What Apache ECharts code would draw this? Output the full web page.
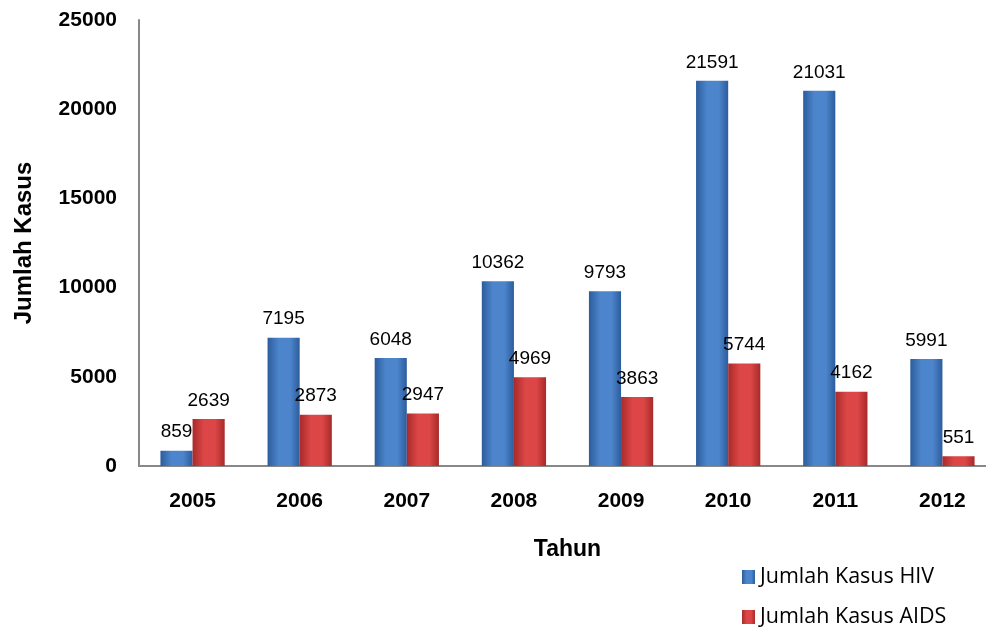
<!DOCTYPE html>
<html><head><meta charset="utf-8">
<script src="https://cdn.jsdelivr.net/npm/echarts@6/dist/echarts.min.js"></script>
<style>html,body{margin:0;padding:0;background:#fff}#c{width:986px;height:630px}</style>
</head><body><div id="c"></div>
<script>
const years = ['2005','2006','2007','2008','2009','2010','2011','2012'];
const hiv = [859, 7195, 6048, 10362, 9793, 21591, 21031, 5991];
const aids = [2639, 2873, 2947, 4969, 3863, 5744, 4162, 551];
const yTicks = [0, 5000, 10000, 15000, 20000, 25000];
const seriesNames = ['Jumlah Kasus HIV', 'Jumlah Kasus AIDS'];

function grad(edge, mid) {
  return new echarts.graphic.LinearGradient(0, 0, 1, 0, [
    {offset: 0, color: edge}, {offset: 0.35, color: mid}, {offset: 0.7, color: mid}, {offset: 1, color: edge}
  ]);
}
const FONT = 'Liberation Sans';
const chart = echarts.init(document.getElementById('c'));
const lbl = {show: true, position: 'top', distance: 9, color: '#000', fontFamily: FONT, fontSize: 19};
const legendBase = {
  orient: 'vertical', left: 742, padding: 0, itemWidth: 13, itemHeight: 14, icon: 'rect',
  textStyle: {fontFamily: 'Open Sans', fontSize: 21.5, color: '#000'}
};
chart.setOption({
  animation: false,
  grid: {left: 139, top: 20, width: 857, height: 446, outerBoundsMode: 'none'},
  legend: [
    Object.assign({}, legendBase, {top: 566, data: [seriesNames[0]]}),
    Object.assign({}, legendBase, {top: 606, data: [seriesNames[1]]})
  ],
  xAxis: {
    type: 'category', data: years,
    name: 'Tahun', nameLocation: 'middle', nameGap: 72,
    nameTextStyle: {fontFamily: FONT, fontSize: 23, fontWeight: 'bold', color: '#000'},
    axisLine: {lineStyle: {color: '#888', width: 2}},
    axisTick: {show: false},
    axisLabel: {fontFamily: FONT, fontSize: 21, fontWeight: 'bold', color: '#000', margin: 25}
  },
  yAxis: {
    type: 'value', min: yTicks[0], max: yTicks[yTicks.length - 1], interval: 5000,
    name: 'Jumlah Kasus', nameLocation: 'middle', nameGap: 103,
    nameTextStyle: {fontFamily: FONT, fontSize: 24, fontWeight: 'bold', color: '#000'},
    axisLine: {show: true, lineStyle: {color: '#888', width: 2}},
    axisTick: {show: false},
    splitLine: {show: false},
    axisLabel: {fontFamily: FONT, fontSize: 21, fontWeight: 'bold', color: '#000', margin: 22,
      formatter: v => String(v)}
  },
  series: [
    {name: seriesNames[0], type: 'bar', data: hiv, barGap: '0%', barCategoryGap: '40%',
     itemStyle: {color: grad('#2c5d9c', '#4d85cc')}, label: lbl},
    {name: seriesNames[1], type: 'bar', data: aids,
     itemStyle: {color: grad('#a82a2a', '#dc4646')}, label: lbl}
  ]
});
</script></body></html>
